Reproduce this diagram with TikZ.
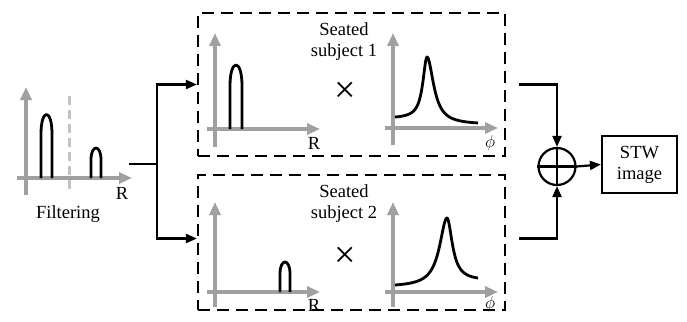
\documentclass[tikz,border=0pt]{standalone}
\usepackage{fontspec}
\setmainfont{Liberation Serif}
\usetikzlibrary{arrows.meta}
\definecolor{axgray}{RGB}{160,160,160}
\definecolor{dashgray}{RGB}{195,195,195}
\begin{document}
\begin{tikzpicture}[x=1pt,y=-1pt,
  every node/.style={font=\fontsize{18.5}{21}\selectfont},
  axis/.style={draw=axgray,line width=3.5pt,-{Triangle[length=13pt,width=11pt]}},
  curve/.style={draw=black,line width=2.8pt,line join=round},
  conn/.style={draw=black,line width=2.2pt,-{Triangle[length=11pt,width=9pt]}},
  plainconn/.style={draw=black,line width=2.2pt},
  dbox/.style={draw=black,line width=2.2pt,dash pattern=on 12pt off 7pt,inner sep=0pt},
  lbl/.style={inner sep=0pt},
  times/.style={inner sep=0pt,font=\fontsize{38}{38}\selectfont}]
\useasboundingbox (0,0) rectangle (687,321);

% ---------- left filtering plot ----------
\draw[axis] (26,195) -- (26,87);
\draw[axis] (17,178) -- (132,178);
\draw[draw=dashgray,line width=3pt,dash pattern=on 9pt off 5pt] (69,96) -- (69,193);
\draw[curve] (41,178) -- (41,134) .. controls (41,108) and (52,108) .. (52,134) -- (52,178);
\draw[curve] (91,178) -- (91,160) .. controls (91,144) and (101,144) .. (101,160) -- (101,178);
\node[lbl] (rl) at (122,193) {R};
\node[lbl] (filt) at (68,214) {Filtering};

% ---------- boxes ----------
\node[dbox,minimum width=307pt,minimum height=143pt] (box1) at (351.5,84.5) {};
\node[dbox,minimum width=307pt,minimum height=135pt] (box2) at (351.5,242.5) {};

\node[lbl,align=center] (t1) at (344,42) {Seated\\subject 1};
\node[lbl,align=center] (t2) at (344,204) {Seated\\subject 2};

% top left mini plot
\draw[axis] (215,147) -- (215,33);
\draw[axis] (207,129) -- (320,129);
\draw[curve] (230,129) -- (230,86) .. controls (230,58) and (242,58) .. (242,86) -- (242,129);
\node[lbl] (r1) at (314,143) {R};
\node[times] (x1) at (345,92) {×};
% top right mini plot
\draw[axis] (393,145) -- (393,33);
\draw[axis] (385,128) -- (498,128);
\draw[curve] plot[domain=395:427,samples=70,smooth] (\x,{118.5-61.5*25/(25+(\x-427)^2)})
  -- plot[domain=427:478,samples=80,smooth] (\x,{124.6-67.6*64/(64+(\x-427)^2)});
\node[lbl] (p1) at (490,143) {$\phi$};

% bottom left mini plot
\draw[axis] (215,307) -- (215,202);
\draw[axis] (207,292) -- (320,292);
\draw[curve] (280,292) -- (280,274) .. controls (280,258) and (290,258) .. (290,274) -- (290,292);
\node[lbl] (r2) at (314,305) {R};
\node[times] (x2) at (345,257) {×};
% bottom right mini plot
\draw[axis] (393,307) -- (393,202);
\draw[axis] (385,292) -- (498,292);
\draw[curve] plot[domain=395:447,samples=80,smooth] (\x,{287-69*81/(81+(\x-447)^2)})
  -- plot[domain=447:478,samples=60,smooth] (\x,{280.6-62.6*41/(41+(\x-447)^2)});
\node[lbl] (p2) at (490,304) {$\phi$};

% ---------- connectors on the left ----------
\coordinate (src) at (129,164);
\coordinate (split) at (157,164);
\draw[plainconn] (src) -- (split);
\draw[conn] (split) |- (box1.west);
\draw[conn] (split) |- ([yshift=4pt]box2.west);

% ---------- sum and output ----------
\node[draw=black,line width=2.2pt,circle,minimum size=37pt,inner sep=0pt] (sum) at (557,166.5) {};
\draw[line width=2.2pt] (sum.north) -- (sum.south) (sum.west) -- (sum.east);
\node[draw=black,line width=2.2pt,minimum width=75pt,minimum height=57pt,align=center,inner sep=0pt] (stw) at (639.5,164.5) {STW\\image};

\coordinate (o1) at ([xshift=13pt]box1.east);
\coordinate (o2) at ([xshift=13pt,yshift=4pt]box2.east);
\draw[conn] (o1) -| (sum.north);
\draw[conn] (o2) -| (sum.south);
\draw[conn] (sum.east) -- (stw.west);
\end{tikzpicture}
\end{document}
